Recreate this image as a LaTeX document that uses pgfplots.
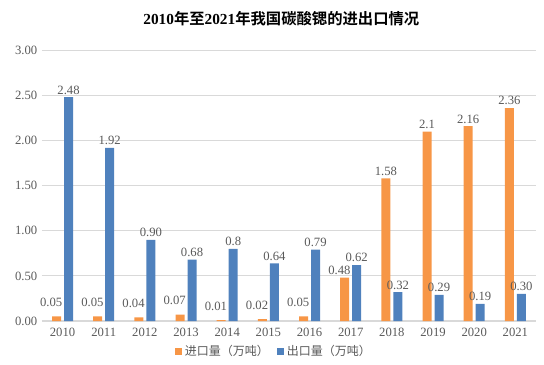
\documentclass[border=0pt]{standalone}
\usepackage{pgfplots}
\pgfplotsset{compat=1.18}
\usepackage{fontspec}
\setmainfont{Liberation Serif}
\newfontfamily\cjk{Noto Sans CJK SC}
\newfontfamily\cjkb{Noto Sans CJK SC Bold}
\definecolor{impc}{RGB}{247,150,70}
\definecolor{expc}{RGB}{79,129,189}
\definecolor{txtc}{RGB}{89,89,89}
\definecolor{gridc}{RGB}{217,217,217}
\begin{document}
\begin{tikzpicture}
\path[use as bounding box] (0,0) rectangle (408pt,273.75pt);
\node[anchor=center,font=\fontsize{11.5}{13}\selectfont] at (211pt,260pt) {\textbf{2010}{\cjkb 年至}\textbf{2021}{\cjkb 年我国碳酸锶的进出口情况}};
\begin{axis}[
  at={(31.5pt,33pt)}, anchor=south west,
  scale only axis, width=370.5pt, height=203pt,
  ybar=2.25pt, bar width=6.75pt,
  xmin=-0.5, xmax=11.5, ymin=0, ymax=3,
  xtick={0,...,11},
  xticklabels={2010,2011,2012,2013,2014,2015,2016,2017,2018,2019,2020,2021},
  ytick={0,0.5,1,1.5,2,2.5,3},
  yticklabel style={/pgf/number format/.cd,fixed,fixed zerofill,precision=2},
  /pgf/number format/assume math mode=true,
  ticklabel style={font=\fontsize{9.5}{11}\selectfont, text=txtc},
  xticklabel style={yshift=-2pt},
  major tick length=0pt,
  ymajorgrids, grid style={gridc, line width=0.8pt},
  axis line style={draw=none},
  clip=false,
  point meta=explicit symbolic,
  nodes near coords,
  visualization depends on={rawy \as \rawy},
  every node near coord/.append style={font=\fontsize{9.5}{11}\selectfont, text=txtc, inner sep=2pt},
  legend style={at={(0.47,-0.113)}, anchor=center, draw=none, legend columns=2,
    font=\cjk\fontsize{9}{10}\selectfont, text=txtc,
    /tikz/every even column/.append style={column sep=4pt}},
  legend image code/.code={\fill[#1] (0pt,-2.75pt) rectangle (5.5pt,2.75pt);},
]
\addplot[fill=impc, draw=none, every node near coord/.append style={
    yshift={ifthenelse(\rawy<0.1,5pt,0pt)}, xshift={ifthenelse(\rawy<0.6,-4pt,0pt)}}] coordinates {
(0,0.05) [0.05] (1,0.05) [0.05] (2,0.04) [0.04] (3,0.07) [0.07]
(4,0.01) [0.01] (5,0.02) [0.02] (6,0.05) [0.05] (7,0.48) [0.48]
(8,1.58) [1.58] (9,2.1) [2.1] (10,2.16) [2.16] (11,2.36) [2.36]};
\addplot[fill=expc, draw=none] coordinates {
(0,2.48) [2.48] (1,1.92) [1.92] (2,0.90) [0.90] (3,0.68) [0.68]
(4,0.8) [0.8] (5,0.64) [0.64] (6,0.79) [0.79] (7,0.62) [0.62]
(8,0.32) [0.32] (9,0.29) [0.29] (10,0.19) [0.19] (11,0.30) [0.30]};
\legend{进口量（万吨）,出口量（万吨）}
\end{axis}
\end{tikzpicture}
\end{document}
